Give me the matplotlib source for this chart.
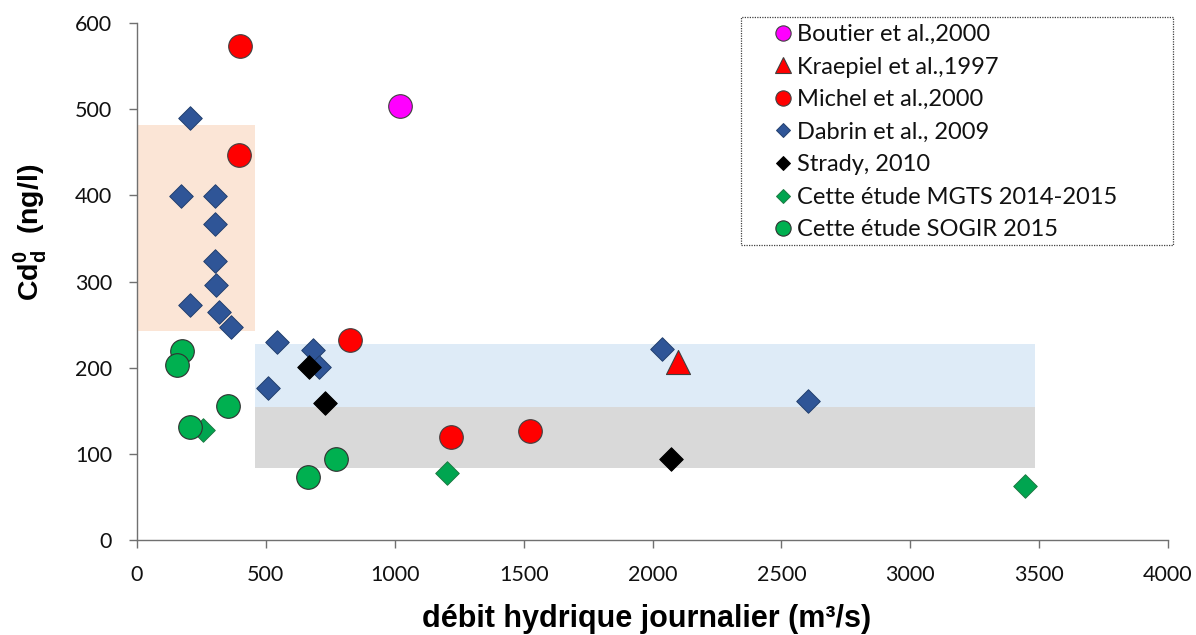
import matplotlib
matplotlib.use("Agg")
import matplotlib.pyplot as plt
from matplotlib.lines import Line2D
from matplotlib.patches import Rectangle

# ---------------- data ----------------
boutier_x = [1020]
boutier_y = [504]
kraepiel_x = [2099]
kraepiel_y = [206]
michel_x = [400, 396, 826, 1218, 1525]
michel_y = [573, 447, 232, 120, 126]
dabrin_x = [206, 171, 303, 303, 303, 306, 206, 318, 365, 543, 684, 708, 508, 2037, 2603]
dabrin_y = [490, 399, 399, 367, 324, 296, 273, 265, 247, 230, 220, 201, 176, 222, 161]
strady_x = [667, 729, 2072]
strady_y = [201, 159, 94]
mgts_x = [256, 1203, 3445]
mgts_y = [128, 78, 63]
sogir_x = [173, 155, 353, 205, 774, 665]
sogir_y = [219, 203, 156, 131, 94, 73]

# shaded ranges: (x0, x1, y0, y1)
zone_peach = (0, 458, 243, 482)
zone_blue = (458, 3485, 154, 228)
zone_grey = (458, 3485, 83, 154)

labels = ["Boutier et al.,2000", "Kraepiel et al.,1997", "Michel et al.,2000",
          "Dabrin et al., 2009", "Strady, 2010", "Cette étude MGTS 2014-2015",
          "Cette étude SOGIR 2015"]
x_ticks = [0, 500, 1000, 1500, 2000, 2500, 3000, 3500, 4000]
y_ticks = [0, 100, 200, 300, 400, 500, 600]

# ---------------- figure ----------------
plt.rcParams['mathtext.fontset'] = 'custom'
plt.rcParams['mathtext.rm'] = 'Liberation Sans:bold'
plt.rcParams['mathtext.bf'] = 'Liberation Sans:bold'

W, H = 1196, 635
fig = plt.figure(figsize=(W / 100, H / 100), dpi=100)
ax = fig.add_axes([137 / W, 1 - 540 / H, (1168 - 137) / W, (540 - 23) / H])

def zone(r, color):
    x0, x1, y0, y1 = r
    ax.fill_between([x0, x1], [y0, y0], [y1, y1], color=color, lw=0, zorder=0)

zone(zone_peach, '#FBE5D6')
zone(zone_blue, '#DEEBF7')
zone(zone_grey, '#D9D9D9')

circ_s = 17.0 ** 2
dia_s = 12.0 ** 2
ax.scatter(boutier_x, boutier_y, s=circ_s, marker='o', c='#FF00FF', edgecolors='#404040', linewidths=0.8, zorder=3)
ax.scatter(kraepiel_x, kraepiel_y, s=17.3 ** 2, marker='^', c='#FF0000', edgecolors='#404040', linewidths=0.8, zorder=3)
ax.scatter(michel_x, michel_y, s=circ_s, marker='o', c='#FF0000', edgecolors='#404040', linewidths=0.8, zorder=3)
ax.scatter(dabrin_x, dabrin_y, s=dia_s, marker='D', c='#2F5597', edgecolors='#23406f', linewidths=0.7, zorder=3)
ax.scatter(strady_x, strady_y, s=dia_s, marker='D', c='#000000', edgecolors='#000000', linewidths=0.7, zorder=3)
ax.scatter(mgts_x, mgts_y, s=dia_s, marker='D', c='#00A550', edgecolors='#1d7a43', linewidths=0.7, zorder=3)
ax.scatter(sogir_x, sogir_y, s=circ_s, marker='o', c='#00B050', edgecolors='#303030', linewidths=0.8, zorder=3)

ax.set_xlim(0, 4000)
ax.set_ylim(0, 600)
ax.set_xticks(x_ticks)
ax.set_yticks(y_ticks)
for s in ['top', 'right']:
    ax.spines[s].set_visible(False)
axis_col = '#707070'
for s in ['left', 'bottom']:
    ax.spines[s].set_color(axis_col)
    ax.spines[s].set_linewidth(1.0)
    ax.spines[s].set_zorder(4)
ax.tick_params(axis='both', direction='out', length=6, width=1.0, color=axis_col,
               labelsize=15.5, labelcolor='#111111')
ax.tick_params(axis='x', pad=12)
ax.tick_params(axis='y', pad=12)
for t in ax.get_xticklabels() + ax.get_yticklabels():
    t.set_fontfamily('Lato')

fig.text(647 / W, 1 - 627 / H, 'débit hydrique journalier (m³/s)', ha='center', va='baseline',
         fontsize=22, fontweight='bold', family='Liberation Sans')
fig.text(30 / W, 1 - 232 / H, r'Cd$_{\mathbf{d}}^{\mathbf{0}}$  (ng/l)', ha='center', va='center',
         rotation=90, fontsize=20.5, fontweight='bold', family='Liberation Sans')

# legend
handles = [
    Line2D([], [], ls='none', marker='o', ms=11, mfc='#FF00FF', mec='#404040', mew=0.8),
    Line2D([], [], ls='none', marker='^', ms=11, mfc='#FF0000', mec='#404040', mew=0.8),
    Line2D([], [], ls='none', marker='o', ms=11, mfc='#FF0000', mec='#404040', mew=0.8),
    Line2D([], [], ls='none', marker='D', ms=7.5, mfc='#2F5597', mec='#23406f', mew=0.7),
    Line2D([], [], ls='none', marker='D', ms=7.5, mfc='#000000', mec='#000000', mew=0.7),
    Line2D([], [], ls='none', marker='D', ms=7.5, mfc='#00A550', mec='#1d7a43', mew=0.7),
    Line2D([], [], ls='none', marker='o', ms=11, mfc='#00B050', mec='#303030', mew=0.8),
]
fs = 17
E = fs * 100 / 72
leg = fig.legend(handles, labels, loc='upper left',
                 bbox_to_anchor=((783 - E / 2) / W, 1 - 24 / H),
                 frameon=False, borderpad=0, borderaxespad=0,
                 handlelength=1.0, handletextpad=(14 - E / 2) / E,
                 labelspacing=0.49, prop={'family': 'Lato', 'size': fs})
for t in leg.get_texts():
    t.set_color('#111111')

fig.add_artist(Rectangle((741 / W, 1 - 245 / H), (1173 - 741) / W, (245 - 17) / H,
                         transform=fig.transFigure, fill=False, ls=(0, (1, 1)),
                         lw=0.9, ec='#404040'))

fig.savefig('out.png', dpi=100)
